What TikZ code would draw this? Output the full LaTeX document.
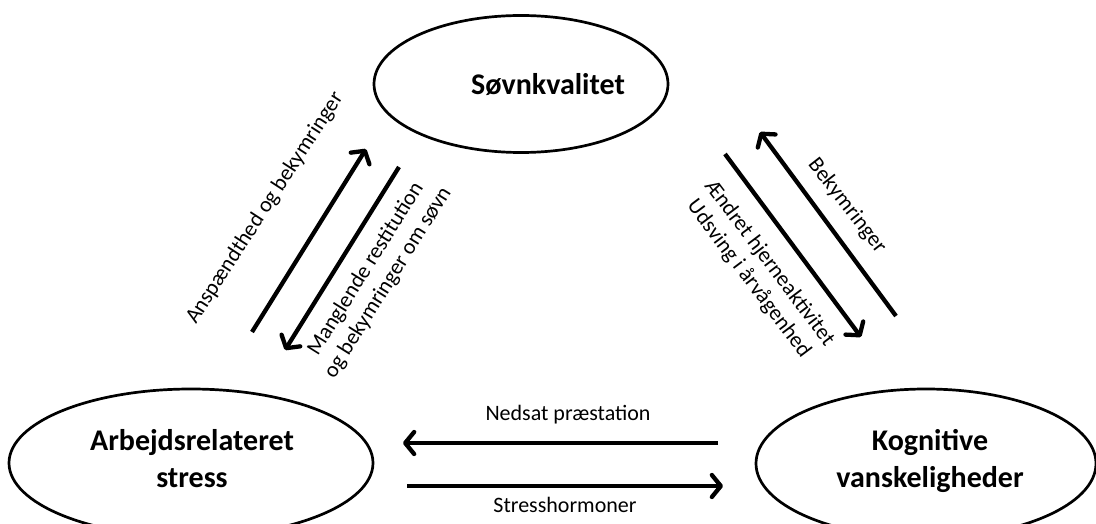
\documentclass[tikz,border=0pt]{standalone}
\usepackage{fontspec}
\setmainfont{Carlito}
\usetikzlibrary{shapes.geometric,arrows.meta}
\tikzset{
  oval/.style={draw, ellipse, line width=2.7pt, inner sep=0pt},
  big/.style={font=\fontsize{30}{37}\selectfont\bfseries, align=center, inner sep=0pt},
  lab/.style={font=\fontsize{22}{26}\selectfont, align=center, inner sep=0pt},
  arr/.style={line width=4.3pt, -{Straight Barb[length=9pt,width=22pt,line cap=round,line join=round]}}
}
\begin{document}
\begin{tikzpicture}[x=1pt,y=-1pt]
\useasboundingbox (0,0) rectangle (1096,524);
% ellipses
\node[oval, minimum width=294pt, minimum height=137pt] (top) at (521,84) {};
\node[oval, minimum width=364pt, minimum height=148pt] (left) at (191,463) {};
\node[oval, minimum width=340pt, minimum height=149pt] (right) at (926,463.5) {};
\node[big, anchor=base] (toptxt) at (548,95) {Søvnkvalitet};
\node[big] (lefttxt) at (192,459) {Arbejdsrelateret\\stress};
\node[big] (righttxt) at (930,461) {Kognitive\\vanskeligheder};
% arrow end points
\coordinate (a1) at (252,332); \coordinate (a2) at (366,149);
\coordinate (b1) at (399,167); \coordinate (b2) at (285,350);
\coordinate (c1) at (725,154); \coordinate (c2) at (861,337);
\coordinate (d1) at (896,316); \coordinate (d2) at (760,132);
\coordinate (e1) at (718,443); \coordinate (e2) at (403,443);
\coordinate (f1) at (407,486); \coordinate (f2) at (723,486);
\draw[arr] (a1) -- (a2);
\draw[arr] (b1) -- (b2);
\draw[arr] (c1) -- (c2);
\draw[arr] (d1) -- (d2);
\draw[arr] (e1) -- (e2);
\draw[arr] (f1) -- (f2);
% labels
\node[lab, rotate=57] (la) at (265,208) {Anspændthed og bekymringer};
\node[lab, rotate=58] (lb) at (377,276) {Manglende restitution\\og bekymringer om søvn};
\node[lab, rotate=-52] (lc) at (847,206) {Bekymringer};
\node[lab, rotate=-53] (ld) at (759,271) {Ændret hjerneaktivitet\\Udsving i årvågenhed};
\node[lab] (le) at (568,415) {Nedsat præstation};
\node[lab] (lf) at (565,505) {Stresshormoner};
\end{tikzpicture}
\end{document}
